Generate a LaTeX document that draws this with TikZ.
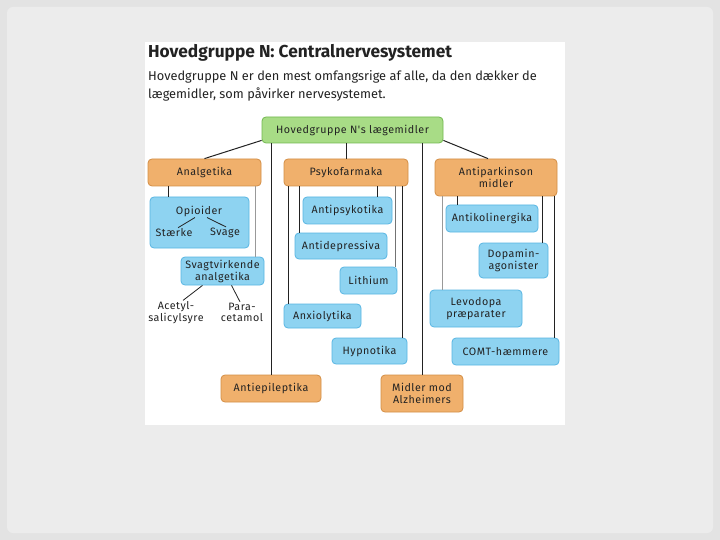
\documentclass[tikz,border=0pt]{standalone}
\usepackage{fontspec}
\setmainfont{Fira Sans}
\newfontfamily\boxfont[LetterSpace=5]{Fira Sans}
\definecolor{outergray}{HTML}{E3E3E3}
\definecolor{cardgray}{HTML}{ECECEC}
\definecolor{greenfill}{HTML}{A8DC86}
\definecolor{greenline}{HTML}{72B850}
\definecolor{orangefill}{HTML}{F0B06C}
\definecolor{orangeline}{HTML}{D38E45}
\definecolor{bluefill}{HTML}{8ED3F1}
\definecolor{blueline}{HTML}{58B5E2}
\definecolor{inkgray}{HTML}{222222}
\begin{document}
\begin{tikzpicture}[x=1pt, y=-1pt,
    box/.style={draw, rounded corners=4pt, line width=0.8pt, align=center,
      inner sep=1pt, text=inkgray, font=\boxfont\fontsize{10.7}{12}\selectfont},
    rootbox/.style={box, fill=greenfill, draw=greenline},
    groupbox/.style={box, fill=orangefill, draw=orangeline},
    subbox/.style={box, fill=bluefill, draw=blueline},
    plain/.style={inner sep=1pt, align=center, text=inkgray, font=\boxfont\fontsize{10.7}{11.5}\selectfont},
    link/.style={inkgray, line width=1pt},
    faint/.style={black!40, line width=0.8pt}]
    \useasboundingbox (0,0) rectangle (720,540);

    % slide background and picture area
    \fill[outergray] (0,0) rectangle (720,540);
    \fill[cardgray, rounded corners=6pt] (7,7) rectangle (713,533);
    \fill[white] (145,42) rectangle (565,425);

    % Heading
    \node (title) at (148,58) [anchor=base west, inner sep=0pt, text=inkgray,
      font=\fontsize{17.3}{20}\selectfont\bfseries] {Hovedgruppe N: Centralnervesystemet};
    \node (intro) at (148,70) [anchor=north west, inner sep=0pt, align=left, text=inkgray,
      font=\fontsize{12.8}{18}\selectfont]
      {Hovedgruppe N er den mest omfangsrige af alle, da den dækker de\\lægemidler, som påvirker nervesystemet.};

    % Root
    \node (root) at (352.5,130) [rootbox, minimum width=181, minimum height=26] {Hovedgruppe N's lægemidler};

    % Main groups
    \node (analg) at (204.5,172.5) [groupbox, minimum width=113, minimum height=27] {Analgetika};
    \node (psyk) at (346,172.5) [groupbox, minimum width=124, minimum height=27] {Psykofarmaka};
    \node (park) at (496,177.5) [groupbox, minimum width=122, minimum height=37] {Antiparkinson\\midler};
    \node (epi) at (271,388.5) [groupbox, minimum width=100, minimum height=27] {Antiepileptika};
    \node (alz) at (422,393.5) [groupbox, minimum width=82, minimum height=37] {Midler mod\\Alzheimers};

    % Analgetika
    \node (opibox) at (199.5,222.5) [subbox, minimum width=99, minimum height=51] {};
    \node (opi) at (199,211) [plain] {Opioider};
    \node (stark) at (174,233) [plain] {Stærke};
    \node (svage) at (225,233) [plain] {Svage};
    \node (svagt) at (222.5,271) [subbox, minimum width=83, minimum height=28] {Svagtvirkende\\analgetika};
    \node (acetyl) at (176,312.5) [plain] {Acetyl-\\salicylsyre};
    \node (para) at (242,312.5) [plain] {Para-\\cetamol};

    % Psykofarmaka
    \node (antipsyk) at (347.5,210.5) [subbox, minimum width=89, minimum height=27] {Antipsykotika};
    \node (antidep) at (341,246) [subbox, minimum width=92, minimum height=26] {Antidepressiva};
    \node (lith) at (368.5,280.5) [subbox, minimum width=57, minimum height=27] {Lithium};
    \node (anxio) at (322.5,316) [subbox, minimum width=77, minimum height=24] {Anxiolytika};
    \node (hypno) at (369.5,351) [subbox, minimum width=75, minimum height=26] {Hypnotika};

    % Antiparkinson midler
    \node (antikol) at (492,218.5) [subbox, minimum width=92, minimum height=27] {Antikolinergika};
    \node (dopa) at (513.5,260.5) [subbox, minimum width=69, minimum height=35] {Dopamin-\\agonister};
    \node (levo) at (476,308.5) [subbox, minimum width=92, minimum height=37] {Levodopa\\præparater};
    \node (comt) at (505.5,351.5) [subbox, minimum width=107, minimum height=27] {COMT-hæmmere};

    % Links from the root
    \draw[link] ([yshift=3pt]root.south west) -- (analg.north);
    \draw[link] ([yshift=3pt]root.south east) -- ([xshift=-8pt]park.north);
    \draw[link] (root.south -| psyk.north) -- (psyk.north);
    \draw[link] (epi.north |- root.south) -- (epi.north);
    \draw[link] (alz.north |- root.south) -- (alz.north);

    % Links below Analgetika
    \draw[link] ([xshift=19pt]opibox.north west) -- ([xshift=19pt]opibox.north west |- analg.south);
    \draw[faint] ([xshift=-9pt]svagt.north east) -- ([xshift=-9pt]svagt.north east |- analg.south);
    \draw[link, line width=0.8pt] ([xshift=-4pt]opi.south) -- ([xshift=4pt]stark.north);
    \draw[link, line width=0.8pt] ([xshift=8pt]opi.south) -- ([xshift=1pt]svage.north);
    \draw[link, line width=0.8pt] ([xshift=-20pt]svagt.south) -- ([xshift=7pt]acetyl.north);
    \draw[link, line width=0.8pt] ([xshift=9pt]svagt.south) -- ([xshift=-2pt]para.north);

    % Links below Psykofarmaka
    \draw[link] ([xshift=5pt]anxio.north west) -- ([xshift=5pt]anxio.north west |- psyk.south);
    \draw[link] ([xshift=5pt]antidep.north west) -- ([xshift=5pt]antidep.north west |- psyk.south);
    \draw[link] ([xshift=-15pt]antipsyk.north east) -- ([xshift=-15pt]antipsyk.north east |- psyk.south);
    \draw[black!55, line width=1.2pt] ([xshift=-2pt]lith.north east) -- ([xshift=-2pt]lith.north east |- psyk.south);
    \draw[link] ([xshift=-5pt]hypno.north east) -- ([xshift=-5pt]hypno.north east |- psyk.south);

    % Links below Antiparkinson midler
    \draw[link] ([xshift=12pt]antikol.north west) -- ([xshift=12pt]antikol.north west |- park.south);
    \draw[faint] ([xshift=13pt]levo.north west) -- ([xshift=13pt]levo.north west |- park.south);
    \draw[link] ([xshift=-6pt]dopa.north east) -- ([xshift=-6pt]dopa.north east |- park.south);
    \draw[link] ([xshift=-5pt]comt.north east) -- ([xshift=-5pt]comt.north east |- park.south);

\end{tikzpicture}
\end{document}
